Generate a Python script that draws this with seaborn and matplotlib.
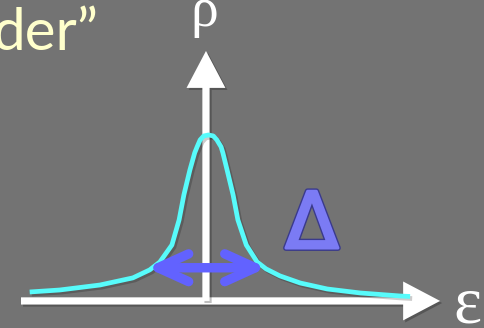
import matplotlib
matplotlib.use("Agg")
import matplotlib.pyplot as plt
import matplotlib.patheffects as pe
from matplotlib.patches import FancyArrowPatch, ArrowStyle
import pandas as pd
import seaborn as sns

# Density of states rho(eps): a single broadened level of width Delta
energy = [-2.98, -2.48, -1.81, -1.26, -0.98, -0.81, -0.61, -0.49, -0.41, -0.31,
          -0.23, -0.19, -0.14, -0.08, 0.00, 0.08, 0.14, 0.21, 0.24, 0.31,
          0.41, 0.49, 0.63, 0.81, 0.96, 1.19, 1.53, 1.98, 2.53, 3.19, 3.36]
density = [0.054, 0.066, 0.096, 0.139, 0.187, 0.235, 0.337, 0.488, 0.639, 0.789,
           0.892, 0.928, 0.970, 0.994, 1.000, 0.994, 0.970, 0.928, 0.892, 0.789,
           0.639, 0.488, 0.337, 0.235, 0.193, 0.151, 0.108, 0.072, 0.048, 0.030, 0.027]

# Width marker (Delta) spanning the peak
width_ends = [-1.03, 0.97]
width_level = 0.20

axis_labels = ["\u03b5", "\u03c1"]
width_label = "\u0394"
title_tail = "der\u201d"

BG = "#737373"
CYAN = "#57fbfb"
BLUE = "#6262ff"
CREAM = "#ffffcc"
DELTA_FILL = "#7b7bf4"
DELTA_EDGE = "#3a3a8c"

sns.set_theme(style="dark", rc={"figure.facecolor": BG, "axes.facecolor": BG})

fig = plt.figure(figsize=(4.84, 3.28), dpi=100)
ax = fig.add_axes([0, 0, 1, 1])
ax.set_xlim(-3.475, 4.592)
ax.set_ylim(-0.163, 1.813)
ax.set_axis_off()

shadow = [pe.withSimplePatchShadow(offset=(1.5, -1.5), shadow_rgbFace="black", alpha=0.25)]
line_shadow = [pe.SimpleLineShadow(offset=(1.5, -1.5), shadow_color="black", alpha=0.2), pe.Normal()]

# Coordinate axes with solid arrow heads
axis_style = ArrowStyle.Simple(head_length=26.6, head_width=28, tail_width=5.2)
for start, end in [((-3.125, 0.0), (3.86, 0.0)), ((-0.042, 0.0), (-0.042, 1.506))]:
    arr = FancyArrowPatch(start, end, arrowstyle=axis_style, mutation_scale=1,
                          shrinkA=0, shrinkB=0, color="white", lw=0,
                          path_effects=shadow, zorder=2)
    ax.add_patch(arr)

df = pd.DataFrame({"energy": energy, "density": density})
sns.lineplot(data=df, x="energy", y="density", ax=ax, color=CYAN, lw=3.4,
             sort=False, estimator=None, zorder=3)
ax.lines[-1].set_path_effects(line_shadow)
ax.lines[-1].set_solid_capstyle("butt")
ax.lines[-1].set_solid_joinstyle("round")

# Double-headed width arrow: open heads with rounded stroke ends
warr = FancyArrowPatch((width_ends[0], width_level), (width_ends[1], width_level),
                       arrowstyle="<->,head_length=22,head_width=10",
                       mutation_scale=1, shrinkA=0, shrinkB=0, color=BLUE, lw=6.8,
                       capstyle="round", joinstyle="round", fill=False, zorder=4)
ax.add_patch(warr)

# Labels
ax.text(-0.07, 1.655, axis_labels[1], color="white", fontsize=40,
        family="Liberation Serif", ha="center", va="baseline", zorder=5)
ax.text(4.31, -0.127, axis_labels[0], color="white", fontsize=48,
        family="Liberation Serif", ha="center", va="baseline", zorder=5)
ax.text(1.725, 0.319, width_label, color=DELTA_FILL, fontsize=56,
        family="DejaVu Sans", ha="center", va="baseline", zorder=5,
        path_effects=[pe.SimplePatchShadow(offset=(1.5, -1.5), alpha=0.25),
                      pe.Stroke(linewidth=4.2, foreground=DELTA_EDGE),
                      pe.Stroke(linewidth=2.2, foreground=DELTA_FILL),
                      pe.Normal()])
ax.text(-1.83, 1.512, title_tail, color=CREAM, fontsize=42,
        family="Lato", ha="right", va="baseline", zorder=5)

fig.savefig("out.png", dpi=100, facecolor=BG)
